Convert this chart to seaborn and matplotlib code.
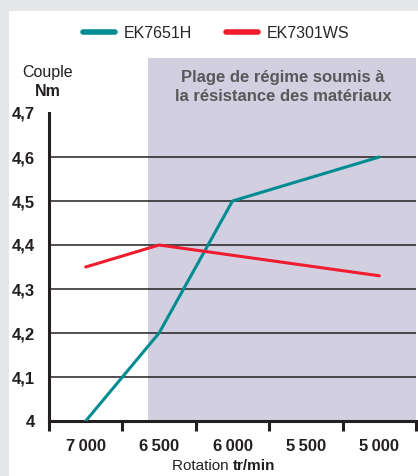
import numpy as np
import pandas as pd
import matplotlib
matplotlib.use("Agg")
import matplotlib.pyplot as plt
from matplotlib.patches import Rectangle
from matplotlib.lines import Line2D
import seaborn as sns

# data
rpm_h = [7000, 6500, 6000, 5000]
torque_h = [4.0, 4.2, 4.5, 4.6]
rpm_ws = [7000, 6500, 5000]
torque_ws = [4.35, 4.40, 4.33]
series = ["EK7651H", "EK7301WS"]
colors = ["#008c91", "#ee1c2e"]
x_labels = [7000, 6500, 6000, 5500, 5000]
y_labels = [4.0, 4.1, 4.2, 4.3, 4.4, 4.5, 4.6, 4.7]
zone_start = 6575

df = pd.concat([
    pd.DataFrame({"rpm": rpm_h, "couple": torque_h, "modele": series[0]}),
    pd.DataFrame({"rpm": rpm_ws, "couple": torque_ws, "modele": series[1]}),
])

sns.set_theme(style="white")
fam = ["Liberation Sans Narrow", "Liberation Sans", "DejaVu Sans"]
plt.rcParams["font.family"] = fam

fig = plt.figure(figsize=(4.18, 4.76), dpi=100)
fig.patch.set_facecolor("#e6e7e9")
fig.patches.append(Rectangle((9 / 418, 0), 1, 1 - 11 / 476, transform=fig.transFigure,
                             facecolor="white", edgecolor="none", zorder=-10))

ax = fig.add_axes([49 / 418, 1 - 421 / 476, (416 - 49) / 418, (421 - 58) / 476])
ax.set_zorder(2)
ax.set_facecolor("none")

# shaded zone
ax.axvspan(zone_start, 4750, color="#d1cfe0", zorder=0, lw=0)

# gridlines
for v in y_labels[1:-1]:
    ax.axhline(v, color="#231f20", lw=1.1, zorder=1)

sns.lineplot(data=df, x="rpm", y="couple", hue="modele", palette=colors,
             linewidth=2.2, legend=False, sort=False, ax=ax, zorder=3)

ax.set_xlim(7250, 4750)
ax.set_ylim(4.0, 4.825)

for s in ["top", "right"]:
    ax.spines[s].set_visible(False)
ax.spines["left"].set_bounds(4.0, 4.7)
ax.spines["left"].set_linewidth(2.2)
ax.spines["bottom"].set_linewidth(2.2)
ax.spines["left"].set_color("#231f20")
ax.spines["bottom"].set_color("#231f20")

# x ticks: marks at bin edges, labels at centres
ax.set_xticks(np.arange(7250, 4749, -500))
ax.set_xticklabels([])
ax.set_xticks(x_labels, minor=True)
ax.set_xticklabels([f"{v // 1000}\u2009{v % 1000:03d}" for v in x_labels], minor=True,
                   fontsize=12, fontweight="bold", color="#231f20", family=fam)
ax.tick_params(axis="x", which="major", length=7, width=2.2, color="#231f20", direction="out", bottom=True)
ax.tick_params(axis="x", which="minor", length=0, pad=13)

ax.set_yticks(y_labels)
ax.set_yticklabels(["4" if v == 4.0 else f"{v:.1f}".replace(".", ",") for v in y_labels],
                   fontsize=12, fontweight="bold", color="#231f20", family=fam)
ax.tick_params(axis="y", length=0, pad=10)
ax.set_xlabel("")
ax.set_ylabel("")

# axis titles
fig.text(48 / 418, 1 - 73 / 476, "Couple", ha="center", va="center", fontsize=11.5, color="#231f20")
fig.text(48 / 418, 1 - 92 / 476, "Nm", ha="center", va="center", fontsize=11.5,
         fontweight="bold", color="#231f20")
fig.text(233 / 418, 1 - 466 / 476, "Rotation ", ha="right", va="center", fontsize=11, color="#231f20")
fig.text(233 / 418, 1 - 466 / 476, "tr/min", ha="left", va="center", fontsize=11,
         fontweight="bold", color="#231f20")

# zone caption
fig.text(283 / 418, 1 - 87 / 476, "Plage de régime soumis à\nla résistance des matériaux",
         ha="center", va="center", fontsize=12, fontweight="bold", color="#58585a", linespacing=1.3)

# legend
handles = [Line2D([], [], color=c, lw=4) for c in colors]
fig.legend(handles, series, loc="center", bbox_to_anchor=(216 / 418, 1 - 33 / 476), ncol=2,
           frameon=False, fontsize=11.5, handlelength=2.0, columnspacing=2.1, handletextpad=0.55)

fig.savefig("out.png", dpi=100, facecolor=fig.get_facecolor())
